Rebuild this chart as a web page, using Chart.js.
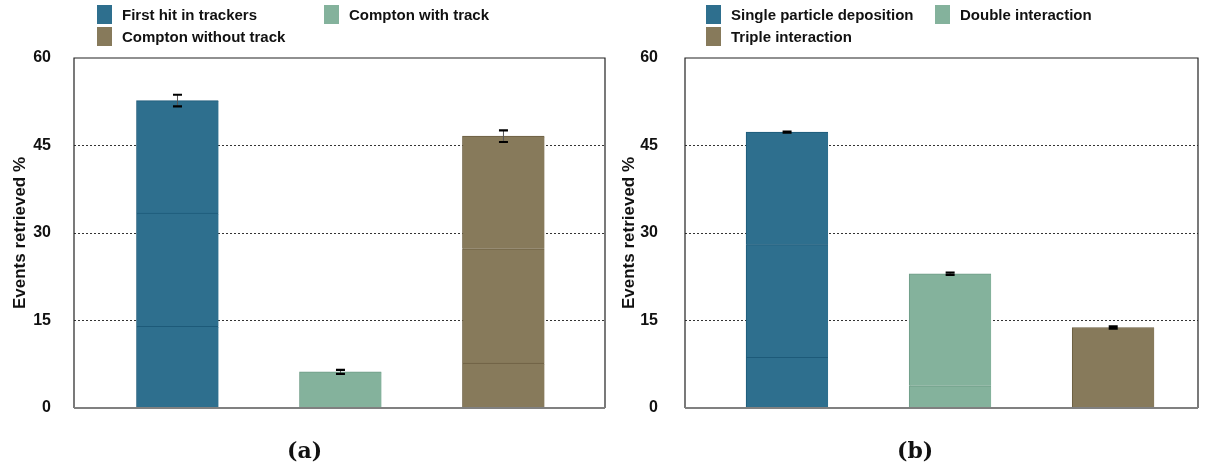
<!DOCTYPE html>
<html>
<head>
<meta charset="utf-8">
<script src="https://cdn.jsdelivr.net/npm/chart.js@4.4.1/dist/chart.umd.min.js"></script>
<style>
  body { margin: 0; background: #fff; width: 1209px; height: 470px; position: relative; overflow: hidden; font-family: "Liberation Sans", Arial, sans-serif; }
  canvas { position: absolute; top: 0; }
  .item { position: absolute; white-space: nowrap; height: 19px; line-height: 19px; font-weight: bold; font-size: 15px; color: #111; }
  .item i { position: absolute; left: 0; top: 0; width: 15px; height: 19px; }
  .item span { position: absolute; left: 25px; top: 0; }
  .caption { position: absolute; top: 437px; font-family: "DejaVu Serif", serif; font-weight: bold; font-size: 22px; color: #111; }
</style>
</head>
<body>
<canvas id="chartA" width="615" height="470" style="left:0"></canvas>
<canvas id="chartB" width="604" height="470" style="left:605px"></canvas>
<div class="caption" style="left:287px">(a)</div>
<div class="caption" style="left:897px">(b)</div>
<script>
// panel (a)
const catsA = ['First hit in trackers', 'Compton with track', 'Compton without track'];
const lowA = [14.0, 6.2, 7.7];
const midA = [19.4, 0, 19.6];
const topA = [19.3, 0, 19.3];
const errA = [1.0, 0.35, 1.0];

// panel (b)
const catsB = ['Single particle deposition', 'Double interaction', 'Triple interaction'];
const lowB = [8.7, 3.8, 13.8];
const midB = [19.3, 19.2, 0];
const topB = [19.3, 0, 0];
const errB = [0.1, 0.2, 0.2];

const yTicks = [0, 15, 30, 45, 60];

const fillColors = ['#2e6f8e', '#84b29c', '#877a5b'];
const edgeColors = ['#1d5a79', '#6f9d87', '#6b5e41'];

// legend boxes, laid out in two columns like the original
function addLegend(cats, spots) {
    cats.forEach((c, i) => {
        const d = document.createElement('div');
        d.className = 'item';
        d.style.left = spots[i][0] + 'px';
        d.style.top = spots[i][1] + 'px';
        d.innerHTML = '<i style="background:' + fillColors[i] + '"></i><span></span>';
        d.querySelector('span').textContent = c;
        document.body.appendChild(d);
    });
}

// frame around the plot area
const framePlugin = {
    id: 'frame',
    afterDatasetsDraw(chart) {
        const { ctx, chartArea: a } = chart;
        ctx.save();
        ctx.strokeStyle = '#222';
        ctx.lineWidth = 1.2;
        ctx.beginPath();
        ctx.moveTo(a.left, a.bottom);
        ctx.lineTo(a.left, a.top);
        ctx.lineTo(a.right, a.top);
        ctx.lineTo(a.right, a.bottom);
        ctx.stroke();
        ctx.strokeStyle = '#808080';
        ctx.lineWidth = 2;
        ctx.beginPath();
        ctx.moveTo(a.left, a.bottom);
        ctx.lineTo(a.right, a.bottom);
        ctx.stroke();
        ctx.restore();
    }
};

// error bars on top of the stacked totals
const errorPlugin = {
    id: 'errorBars',
    afterDatasetsDraw(chart, args, opts) {
        const { ctx } = chart;
        const y = chart.scales.y;
        const meta = chart.getDatasetMeta(0);
        ctx.save();
        opts.totals.forEach((t, i) => {
            const x = meta.data[i].x;
            const hi = y.getPixelForValue(t + opts.errors[i]);
            const lo = y.getPixelForValue(t - opts.errors[i]);
            ctx.strokeStyle = '#555';
            ctx.lineWidth = 1;
            ctx.beginPath();
            ctx.moveTo(x, hi);
            ctx.lineTo(x, lo);
            ctx.stroke();
            ctx.strokeStyle = '#000';
            ctx.lineWidth = 2.2;
            ctx.beginPath();
            ctx.moveTo(x - 4.5, hi);
            ctx.lineTo(x + 4.5, hi);
            ctx.moveTo(x - 4.5, lo);
            ctx.lineTo(x + 4.5, lo);
            ctx.stroke();
        });
        ctx.restore();
    }
};

function makeChart(id, segs, errs, xMin, xMax, axisW, tickPad, titlePad, padRight) {
    const totals = segs[0].map((v, i) => segs.reduce((s, arr) => s + arr[i], 0));
    const datasets = segs.map(arr => ({
        data: arr.map((v, i) => ({ x: i, y: v })),
        backgroundColor: fillColors,
        borderColor: edgeColors,
        borderWidth: { top: 1, left: 1, right: 0, bottom: 0 },
        borderSkipped: false,
        barThickness: 82
    }));

    return new Chart(document.getElementById(id), {
        type: 'bar',
        data: { datasets },
        plugins: [framePlugin, errorPlugin],
        options: {
            responsive: false,
            animation: false,
            layout: { padding: { top: 58, bottom: 62, left: 0, right: padRight } },
            plugins: {
                legend: { display: false },
                tooltip: { enabled: false },
                errorBars: { totals, errors: errs }
            },
            scales: {
                x: { type: 'linear', min: xMin, max: xMax, offset: false, display: false, stacked: true },
                y: {
                    stacked: true,
                    min: 0,
                    max: 60,
                    z: 1,
                    afterFit: s => { s.width = axisW; },
                    afterBuildTicks: s => { s.ticks = yTicks.map(v => ({ value: v })); },
                    grid: {
                        drawTicks: false,
                        lineWidth: 1,
                        color: c => (c.tick && c.tick.value > 0 && c.tick.value < 60) ? '#333' : 'rgba(0,0,0,0)'
                    },
                    border: { display: false, dash: [2, 2] },
                    ticks: {
                        padding: tickPad,
                        color: '#111',
                        font: { family: '"Liberation Sans", Arial, sans-serif', size: 16, weight: 'bold' }
                    },
                    title: {
                        display: true,
                        text: 'Events retrieved %',
                        color: '#111',
                        padding: { top: titlePad, bottom: 0 },
                        font: { family: '"Liberation Sans", Arial, sans-serif', size: 17, weight: 'bold' }
                    }
                }
            }
        }
    });
}

addLegend(catsA, [[97, 5], [324, 5], [97, 27]]);
addLegend(catsB, [[706, 5], [935, 5], [706, 27]]);

makeChart('chartA', [lowA, midA, topA], errA, -0.635, 2.623, 74, 23, 10, 10);
makeChart('chartB', [lowB, midB, topB], errB, -0.626, 2.52, 80, 27, 14, 11);
</script>
</body>
</html>
